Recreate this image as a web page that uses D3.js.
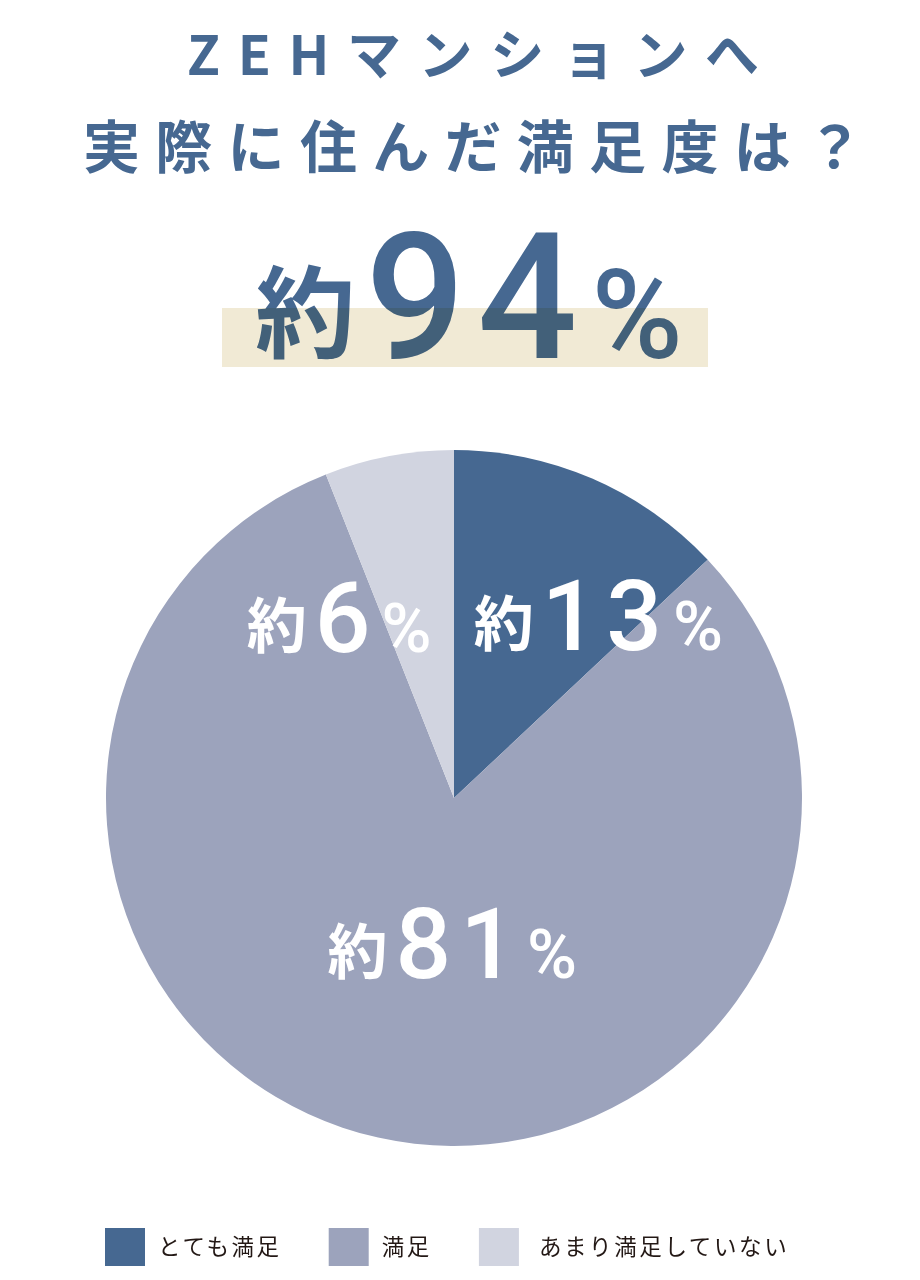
<!DOCTYPE html>
<html lang="ja">
<head>
<meta charset="utf-8">
<script src="https://cdn.jsdelivr.net/npm/d3@7"></script>
<style>
  html, body { margin: 0; padding: 0; background: #fff; }
  svg { display: block; }
</style>
</head>
<body>
<div id="chart"></div>
<script>
// データ
const titleLines = ["ZEHマンションへ", "実際に住んだ満足度は？"];
const headlineValue = 94;
const categories = ["とても満足", "満足", "あまり満足していない"];
const values = [13, 81, 6];
const colors = ["#466891", "#9ca3bc", "#d1d4e0"];

// レイアウト（中心からのラベル位置、半径比）
const labelOffsets = [[0.415, -0.425], [-0.005, 0.517], [-0.33, -0.42]];

const W = 920, H = 1280;
const cx = 454, cy = 798, radius = 348;
const titleColor = "#466891";
const cjk = "'Noto Sans CJK JP', 'Noto Sans', sans-serif";
const latin = "Roboto, 'Liberation Sans', sans-serif";

const svg = d3.select("#chart").append("svg")
  .attr("width", W).attr("height", H);

// タイトル
const titleLen = [572, 780];
const titleSize = [54, 57];
const titleY = [75, 168];
titleLines.forEach((t, i) => {
  svg.append("text")
    .attr("x", 473 - titleLen[i] / 2)
    .attr("y", titleY[i])
    .attr("textLength", titleLen[i])
    .attr("lengthAdjust", "spacing")
    .attr("font-family", cjk)
    .attr("font-weight", 700)
    .attr("font-size", titleSize[i])
    .attr("fill", titleColor)
    .text(t);
});

// 約94% の下線ハイライト
svg.append("rect")
  .attr("x", 222).attr("y", 308)
  .attr("width", 486).attr("height", 59)
  .attr("fill", "#f1ead5");

const head = svg.append("text")
  .attr("x", 469).attr("y", 358)
  .attr("text-anchor", "middle")
  .attr("fill", titleColor)
  .style("mix-blend-mode", "multiply");
head.append("tspan")
  .attr("font-family", cjk).attr("font-weight", 700).attr("font-size", 100)
  .attr("dy", -8)
  .text("約");
head.append("tspan")
  .attr("font-family", latin).attr("font-weight", 500).attr("font-size", 176)
  .attr("dx", 10).attr("dy", 8)
  .attr("letter-spacing", 12)
  .text(String(headlineValue));
head.append("tspan")
  .attr("font-family", latin).attr("font-weight", 500).attr("font-size", 124)
  .attr("dx", 2)
  .text("%");

// 円グラフ
const pie = d3.pie().sort(null).value(d => d);
const arc = d3.arc().innerRadius(0).outerRadius(radius);
const arcs = pie(values);

const g = svg.append("g").attr("transform", "translate(" + cx + "," + cy + ")");

g.selectAll(".slice")
  .data(arcs)
  .enter()
  .append("path")
  .attr("class", "slice")
  .attr("d", arc)
  .attr("fill", (d, i) => colors[i]);

// ラベル
const labels = g.selectAll(".lbl")
  .data(arcs)
  .enter()
  .append("text")
  .attr("class", "lbl")
  .attr("x", (d, i) => labelOffsets[i][0] * radius)
  .attr("y", (d, i) => labelOffsets[i][1] * radius)
  .attr("text-anchor", "middle")
  .attr("fill", "#fff");

labels.append("tspan")
  .attr("font-family", cjk).attr("font-weight", 700).attr("font-size", 60)
  .attr("dy", -4)
  .text("約");
labels.append("tspan")
  .attr("font-family", latin).attr("font-weight", 500).attr("font-size", 98)
  .attr("dx", 8).attr("dy", 4)
  .attr("letter-spacing", 9)
  .text(d => d.data);
labels.append("tspan")
  .attr("font-family", latin).attr("font-weight", 500).attr("font-size", 68)
  .attr("dx", 2)
  .text("%");

// 凡例
const legend = svg.append("g").attr("transform", "translate(105,1228)");
let lx = 0;
categories.forEach((c, i) => {
  const item = legend.append("g").attr("transform", "translate(" + lx + ",0)");
  item.append("rect")
    .attr("width", 40).attr("height", 38)
    .attr("fill", colors[i]);
  const tx = i === 2 ? 60 : 53;
  const t = item.append("text")
    .attr("x", tx).attr("y", 27)
    .attr("font-family", cjk)
    .attr("font-size", 22.5)
    .attr("letter-spacing", 2.6)
    .attr("fill", "#231815")
    .text(c);
  const w = t.node().getComputedTextLength();
  lx += tx + w + 47;
});
</script>
</body>
</html>
